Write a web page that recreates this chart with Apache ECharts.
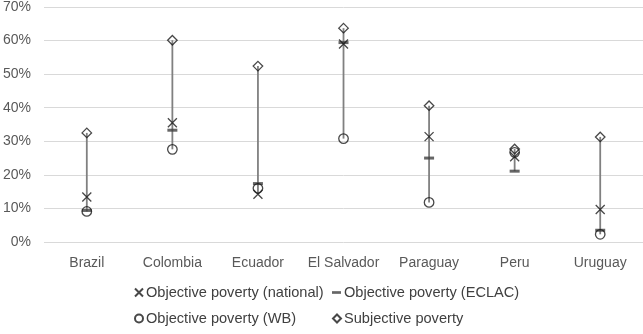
<!DOCTYPE html>
<html><head><meta charset="utf-8">
<script src="https://cdn.jsdelivr.net/npm/echarts@6/dist/echarts.min.js"></script>
<style>html,body{margin:0;padding:0;background:#fff}#c{width:643px;height:334px}</style>
</head><body><div id="c"></div>
<script>
var countries = ['Brazil','Colombia','Ecuador','El Salvador','Paraguay','Peru','Uruguay'];
var national = [13.4, 35.5, 14.2, 59.0, 31.4, 25.4, 9.7];
var eclac = [9.4, 33.3, 17.4, 59.4, 25.0, 21.1, 3.5];
var wb = [9.1, 27.6, 16.0, 30.8, 11.8, 26.7, 2.3];
var subjective = [32.5, 60.1, 52.4, 63.7, 40.6, 27.7, 31.3];
var yTicks = [0, 10, 20, 30, 40, 50, 60, 70];

var ranges = countries.map(function(c, i){
  var v = [national[i], eclac[i], wb[i], subjective[i]];
  return [i, Math.min.apply(null, v), Math.max.apply(null, v)];
});

var ink = '#1a1a1a';
var font = 'Liberation Sans';
var symX = 'path://M0,0L10,10M10,0L0,10';
var symD = 'path://M5,0L10,5L5,10L0,5Z';
var symDash = 'path://M0,0L10,0L10,3L0,3Z';

function leg(name, icon, left, top, w, h){
  return {
    left: left, top: top, itemWidth: w, itemHeight: h, padding: 0,
    textStyle: {color: '#404040', fontSize: 14.6, fontFamily: font, padding: [0,0,0,-2]},
    data: [{name: name, icon: icon}]
  };
}

var chart = echarts.init(document.getElementById('c'));
chart.setOption({
  animation: false,
  textStyle: {fontFamily: font},
  grid: {left: 41, right: 0, top: 6, bottom: 92},
  xAxis: {
    type: 'category', data: countries,
    axisLine: {show: false}, axisTick: {show: false},
    axisLabel: {color: '#595959', fontSize: 14, margin: 14, interval: 0, fontFamily: font}
  },
  yAxis: {
    type: 'value', min: 0, max: 70, interval: 10,
    axisLabel: {color: '#595959', fontSize: 14, margin: 13, fontFamily: font,
      formatter: function(v){ return yTicks.indexOf(v) >= 0 ? v + '%' : ''; }},
    splitLine: {lineStyle: {color: '#d9d9d9', width: 1}},
    axisLine: {show: false}, axisTick: {show: false}
  },
  legend: [
    leg('Objective poverty (national)', symX, 134, 285, 8, 8),
    leg('Objective poverty (ECLAC)', symDash, 332, 285, 9, 3),
    leg('Objective poverty (WB)', 'circle', 134, 311, 8, 8),
    leg('Subjective poverty', symD, 332, 311, 8, 8)
  ],
  series: [{
    type: 'custom', z: 1, silent: true,
    data: ranges,
    renderItem: function(params, api){
      var p1 = api.coord([api.value(0), api.value(1)]);
      var p2 = api.coord([api.value(0), api.value(2)]);
      return {type: 'line', shape: {x1: p1[0], y1: p1[1], x2: p2[0], y2: p2[1]},
        style: {stroke: '#808080', lineWidth: 1.8}};
    }
  }, {
    name: 'Objective poverty (ECLAC)', type: 'scatter', z: 3,
    symbol: 'rect', symbolSize: [10, 3],
    itemStyle: {color: '#404040'},
    data: eclac
  }, {
    name: 'Objective poverty (WB)', type: 'scatter', z: 4,
    symbol: 'circle', symbolSize: 9.5,
    itemStyle: {color: 'rgba(255,255,255,0)', borderColor: ink, borderWidth: 1.3},
    data: wb
  }, {
    name: 'Objective poverty (national)', type: 'scatter', z: 5,
    symbol: symX, symbolSize: 9,
    itemStyle: {color: 'rgba(255,255,255,0)', borderColor: ink, borderWidth: 1.3},
    data: national
  }, {
    name: 'Subjective poverty', type: 'scatter', z: 6,
    symbol: symD, symbolSize: 9.5,
    itemStyle: {color: 'rgba(255,255,255,0)', borderColor: ink, borderWidth: 1.3},
    data: subjective
  }]
});
</script></body></html>
